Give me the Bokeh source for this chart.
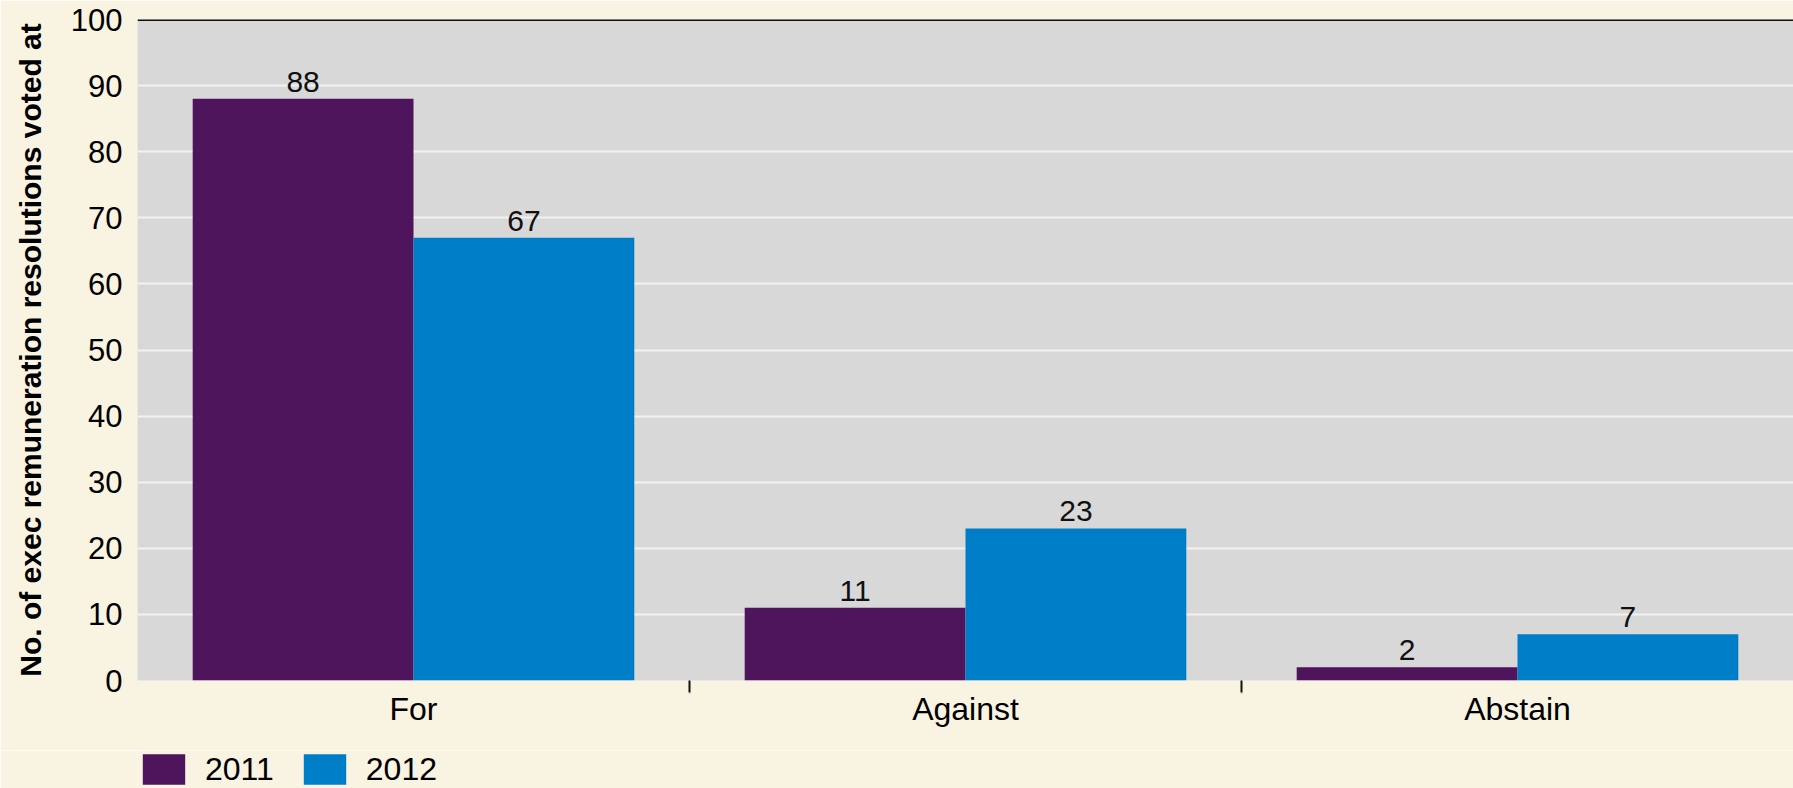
from bokeh.plotting import figure
from bokeh.layouts import column
from bokeh.models import (ColumnDataSource, FactorRange, Range1d, CategoricalAxis,
                          FixedTicker, LabelSet, Legend, LegendItem, Span, CategoricalScale)
from bokeh.core.properties import value
from bokeh.transform import dodge
from bokeh.embed import file_html
from bokeh.resources import INLINE

categories = ["For", "Against", "Abstain"]
years = ["2011", "2012"]
values_2011 = [88, 11, 2]
values_2012 = [67, 23, 7]
y_ticks = [0, 10, 20, 30, 40, 50, 60, 70, 80, 90, 100]
y_max = 100
y_label = "No. of exec remuneration resolutions voted at"

colors = {"2011": "#4E155C", "2012": "#007DC7"}
FONT = "Liberation Sans"
BG = "#F9F3E2"

src = ColumnDataSource(data=dict(
    cat=categories,
    v2011=values_2011,
    v2012=values_2012,
    t2011=[str(v) for v in values_2011],
    t2012=[str(v) for v in values_2012],
))

p = figure(width=1793, height=750, x_range=FactorRange(*categories, range_padding=0),
           y_range=Range1d(0, y_max), output_backend="svg", toolbar_location=None,
           x_axis_location=None, min_border_left=137, min_border_right=0,
           min_border_top=19, min_border_bottom=70)
p.background_fill_color = "#D8D8D8"
p.border_fill_color = BG
p.outline_line_color = None

p.xgrid.grid_line_color = None
p.ygrid.grid_line_color = "#F2F2F2"
p.ygrid.grid_line_width = 2
p.ygrid.ticker = FixedTicker(ticks=y_ticks)

r1 = p.vbar(x=dodge("cat", -0.2, range=p.x_range), top="v2011", width=0.4, source=src,
            fill_color=colors["2011"], line_color=None)
r2 = p.vbar(x=dodge("cat", 0.2, range=p.x_range), top="v2012", width=0.4, source=src,
            fill_color=colors["2012"], line_color=None)

for field, off in (("t2011", -0.2), ("t2012", 0.2)):
    top = "v2011" if field == "t2011" else "v2012"
    p.add_layout(LabelSet(x=dodge("cat", off, range=p.x_range), y=top, text=field, source=src,
                          text_align="center", text_baseline="bottom", y_offset=7,
                          text_font=value(FONT), text_font_size=value("30px"),
                          text_color="#111111"))

p.add_layout(Span(location=y_max, dimension="width", line_color="#111111", line_width=3))

# y axis
ya = p.yaxis[0]
ya.ticker = FixedTicker(ticks=y_ticks)
ya.axis_line_color = None
ya.major_tick_line_color = None
ya.major_tick_in = 0
ya.major_tick_out = 0
ya.minor_tick_line_color = None
ya.major_label_text_font = FONT
ya.major_label_text_font_size = "31px"
ya.major_label_text_color = "#000000"
ya.major_label_standoff = 15
ya.axis_label = y_label
ya.axis_label_text_font = FONT
ya.axis_label_text_font_size = "30px"
ya.axis_label_text_font_style = "bold"
ya.axis_label_text_color = "#000000"
ya.axis_label_standoff = 21

# boundary ticks axis: factors whose centres fall on the category edges
edge_factors = ["e%d" % i for i in range(len(categories) + 1)]
p.extra_x_ranges = {"edges": FactorRange(*edge_factors, range_padding=-0.5,
                                         range_padding_units="absolute")}
p.extra_x_scales = {"edges": CategoricalScale()}
ea = CategoricalAxis(x_range_name="edges")
ea.axis_line_color = None
ea.major_tick_in = 0
ea.major_tick_out = 12
ea.major_tick_line_width = 2
ea.major_tick_line_color = "#111111"
ea.minor_tick_line_color = None
ea.major_label_overrides = {f: "" for f in edge_factors}
ea.major_label_text_font_size = "1px"
ea.major_label_standoff = 0
p.add_layout(ea, "below")

ca = CategoricalAxis()
ca.axis_line_color = None
ca.major_tick_line_color = None
ca.major_tick_in = 0
ca.major_tick_out = 0
ca.major_label_standoff = -6
ca.major_label_text_font = FONT
ca.major_label_text_font_size = "32px"
ca.major_label_text_color = "#000000"
p.add_layout(ca, "below")

# legend strip below the chart
lf = figure(width=1793, height=38, x_range=FactorRange(*categories, range_padding=0),
            y_range=Range1d(0, y_max), output_backend="svg", toolbar_location=None,
            x_axis_location=None, y_axis_location=None, min_border_left=137,
            min_border_right=0, min_border_top=0, min_border_bottom=0)
lf.background_fill_color = BG
lf.border_fill_color = BG
lf.outline_line_color = None
lf.grid.grid_line_color = None
l1 = lf.vbar(x=dodge("cat", -0.2, range=lf.x_range), top="v2011", width=0.4, source=src,
             fill_color=colors["2011"], line_color=None, visible=False)
l2 = lf.vbar(x=dodge("cat", 0.2, range=lf.x_range), top="v2012", width=0.4, source=src,
             fill_color=colors["2012"], line_color=None, visible=False)
legend = Legend(items=[LegendItem(label=years[0], renderers=[l1]),
                       LegendItem(label=years[1], renderers=[l2])],
                orientation="horizontal", location="top_left",
                glyph_width=53, glyph_height=38, label_standoff=15, spacing=24,
                padding=0, margin=0, border_line_color=None, background_fill_color=None,
                inactive_fill_alpha=0,
                label_text_font=FONT, label_text_font_size="32px", label_text_color="#000000")
lf.add_layout(legend)

layout = column(p, lf, spacing=0)
open("out.html", "w").write(file_html(layout, INLINE))
